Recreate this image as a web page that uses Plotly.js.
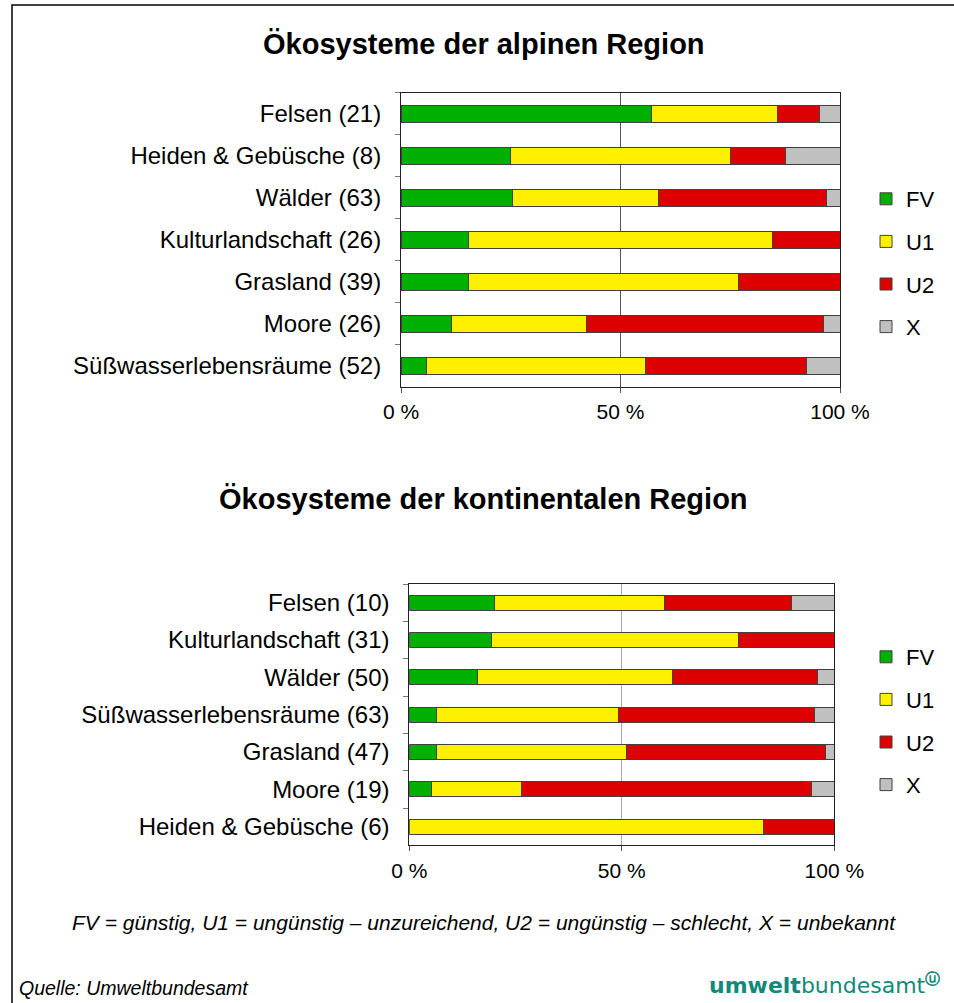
<!DOCTYPE html>
<html>
<head>
<meta charset="utf-8">
<script src="https://cdn.plot.ly/plotly-3.0.1.min.js"></script>
<style>
  body { margin: 0; background: #fff; }
  #chart { width: 954px; height: 1003px; }
</style>
</head>
<body>
<div id="chart"></div>
<script>
// counts of assessments per ecosystem type (bars are drawn as percent of row total)
let status_names = ["FV", "U1", "U2", "X"];
let status_colors = ["#00b000", "#fff000", "#dc0000", "#c0c0c0"];

let alpine_categories = [
  "Felsen (21)",
  "Heiden & Gebüsche (8)",
  "Wälder (63)",
  "Kulturlandschaft (26)",
  "Grasland (39)",
  "Moore (26)",
  "Süßwasserlebensräume (52)"
];
let alpine_fv = [12, 2, 16, 4, 6, 3, 3];
let alpine_u1 = [6, 4, 21, 18, 24, 8, 26];
let alpine_u2 = [2, 1, 24, 4, 9, 14, 19];
let alpine_x = [1, 1, 2, 0, 0, 1, 4];

let cont_categories = [
  "Felsen (10)",
  "Kulturlandschaft (31)",
  "Wälder (50)",
  "Süßwasserlebensräume (63)",
  "Grasland (47)",
  "Moore (19)",
  "Heiden & Gebüsche (6)"
];
let cont_fv = [2, 6, 8, 4, 3, 1, 0];
let cont_u1 = [4, 18, 23, 27, 21, 4, 5];
let cont_u2 = [3, 7, 17, 29, 22, 13, 1];
let cont_x = [1, 0, 2, 3, 1, 1, 0];

let x_tick_vals = [0, 50, 100];
let x_tick_text = ["0 %", "50 %", "100 %"];

let font_family = "Liberation Sans, Arial, sans-serif";
let W = 954;
let H = 1003;

// pixel helpers so the layout can be given in page pixels
function px(x) { return x / W; }
function py(y) { return 1 - y / H; }

function make_traces(categories, series, xa, ya, legend_name) {
  let traces = [];
  for (let i = 0; i < series.length; i++) {
    traces.push({
      type: "bar",
      orientation: "h",
      y: categories,
      x: series[i],
      name: status_names[i],
      legendgroup: legend_name + status_names[i],
      legend: legend_name,
      xaxis: xa,
      yaxis: ya,
      marker: {
        color: status_colors[i],
        line: { color: "#404040", width: 1 }
      },
      hoverinfo: "x+y+name"
    });
  }
  return traces;
}

let data = []
  .concat(make_traces(alpine_categories, [alpine_fv, alpine_u1, alpine_u2, alpine_x], "x", "y", "legend"))
  .concat(make_traces(cont_categories, [cont_fv, cont_u1, cont_u2, cont_x], "x2", "y2", "legend2"));

function x_axis(domain, anchor, grid_color) {
  return {
    domain: domain,
    anchor: anchor,
    range: [0, 100],
    tickvals: x_tick_vals,
    ticktext: x_tick_text,
    ticks: "outside",
    ticklen: 5,
    tickcolor: "#555",
    ticklabelstandoff: 1,
    showline: true,
    mirror: true,
    linecolor: "#222",
    linewidth: 1,
    showgrid: true,
    gridcolor: grid_color,
    gridwidth: 1,
    zeroline: false,
    automargin: false,
    fixedrange: true,
    tickfont: { family: font_family, size: 21, color: "#000" }
  };
}

function y_axis(domain, anchor) {
  return {
    domain: domain,
    anchor: anchor,
    type: "category",
    autorange: "reversed",
    tickson: "boundaries",
    ticks: "outside",
    ticklen: 5,
    tickcolor: "#777",
    ticklabelstandoff: 14,
    showline: true,
    mirror: true,
    linecolor: "#222",
    linewidth: 1,
    showgrid: false,
    automargin: false,
    fixedrange: true,
    tickfont: { family: font_family, size: 24, color: "#000" }
  };
}

function legend_box(top_y) {
  return {
    x: px(866),
    xanchor: "left",
    y: py(top_y),
    yanchor: "top",
    bgcolor: "rgba(0,0,0,0)",
    traceorder: "grouped",
    tracegroupgap: 11,
    itemclick: false,
    itemdoubleclick: false,
    font: { family: font_family, size: 22, color: "#000" }
  };
}

let layout = {
  width: W,
  height: H,
  margin: { l: 0, r: 0, t: 0, b: 0 },
  paper_bgcolor: "#fff",
  plot_bgcolor: "#fff",
  barmode: "stack",
  barnorm: "percent",
  bargap: 0.6,
  xaxis: x_axis([px(401), px(840)], "y", "#555"),
  yaxis: y_axis([py(386.7), py(92.7)], "x"),
  xaxis2: x_axis([px(409.3), px(834.3)], "y2", "#aaa"),
  yaxis2: y_axis([py(845.4), py(584)], "x2"),
  legend: legend_box(178),
  legend2: legend_box(636),
  shapes: [
    {
      type: "rect",
      xref: "paper",
      yref: "paper",
      x0: px(12),
      x1: 1.05,
      y0: py(5),
      y1: -0.05,
      line: { color: "#000", width: 1.5 }
    }
  ],
  annotations: [
    {
      text: "<b>Ökosysteme der alpinen Region</b>",
      xref: "paper", yref: "paper",
      x: px(484), y: py(44),
      xanchor: "center", yanchor: "middle",
      showarrow: false,
      font: { family: font_family, size: 29, color: "#000" }
    },
    {
      text: "<b>Ökosysteme der kontinentalen Region</b>",
      xref: "paper", yref: "paper",
      x: px(484), y: py(499),
      xanchor: "center", yanchor: "middle",
      showarrow: false,
      font: { family: font_family, size: 29, color: "#000" }
    },
    {
      text: "<i>FV = günstig, U1 = ungünstig – unzureichend, U2 = ungünstig – schlecht, X = unbekannt</i>",
      xref: "paper", yref: "paper",
      x: px(484), y: py(922),
      xanchor: "center", yanchor: "middle",
      showarrow: false,
      font: { family: font_family, size: 21, color: "#000" }
    },
    {
      text: "<i>Quelle: Umweltbundesamt</i>",
      xref: "paper", yref: "paper",
      x: px(17), y: py(988),
      xanchor: "left", yanchor: "middle",
      showarrow: false,
      font: { family: font_family, size: 19.5, color: "#000" }
    },
    {
      text: "<b>umwelt</b>bundesamt<sup><b>ⓤ</b></sup>",
      xref: "paper", yref: "paper",
      x: px(942), y: py(984),
      xanchor: "right", yanchor: "middle",
      showarrow: false,
      font: { family: "DejaVu Sans, sans-serif", size: 22, color: "#13897a" }
    }
  ]
};

let config = { displayModeBar: false, responsive: false, staticPlot: false };

Plotly.newPlot("chart", data, layout, config);
</script>
</body>
</html>
